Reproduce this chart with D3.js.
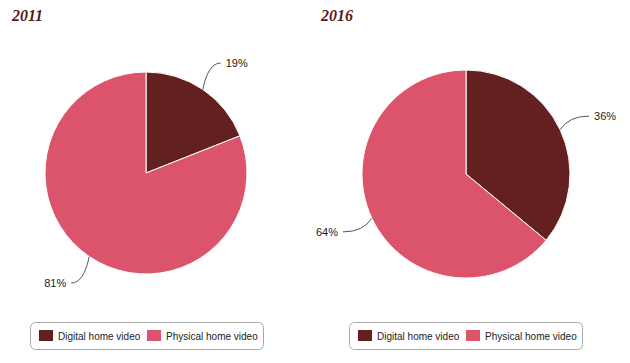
<!DOCTYPE html>
<html>
<head>
<meta charset="utf-8">
<script src="https://cdn.jsdelivr.net/npm/d3@7"></script>
<style>
  body { margin: 0; background: #fff; }
</style>
</head>
<body>
<div id="chart"></div>
<script>
// datos
var years = ['2011', '2016']
var categories = ['Digital home video', 'Physical home video']
var share2011 = [19, 81]
var share2016 = [36, 64]
var colors = ['#63201e', '#dc546b']

var width = 630
var height = 363

var svg = d3.select('#chart')
    .append('svg')
    .attr('width', width)
    .attr('height', height)

// configuracion de cada panel
var panels = [
    {year: years[0], values: share2011, cx: 146, cy: 173, r: 101, tx: 12, lx: 30},
    {year: years[1], values: share2016, cx: 466, cy: 174, r: 104, tx: 321, lx: 349}
]

var pie = d3.pie().sort(null).value((d) => d)
var colorScale = d3.scaleOrdinal().domain(categories).range(colors)

panels.forEach((p) => {
    var g = svg.append('g')

    // titulo
    g.append('text')
        .attr('x', p.tx)
        .attr('y', 21)
        .attr('font-family', 'Liberation Serif, DejaVu Serif, serif')
        .attr('font-style', 'italic')
        .attr('font-weight', 'bold')
        .attr('font-size', 16)
        .attr('fill', '#5a1a1a')
        .text(p.year)

    var arcs = pie(p.values)
    var arc = d3.arc().innerRadius(0).outerRadius(p.r)

    var pieG = g.append('g').attr('transform', 'translate(' + p.cx + ',' + p.cy + ')')

    pieG.selectAll('path.slice')
        .data(arcs)
        .enter()
        .append('path')
        .attr('class', 'slice')
        .attr('d', arc)
        .attr('fill', (d, i) => colorScale(categories[i]))
        .attr('stroke', '#fff')
        .attr('stroke-width', 1)

    // etiquetas con conectores
    arcs.forEach((d) => {
        var mid = (d.startAngle + d.endAngle) / 2
        var sx = Math.sin(mid) * p.r
        var sy = -Math.cos(mid) * p.r
        var ex = Math.sin(mid) * (p.r + 32)
        var ey = -Math.cos(mid) * (p.r + 32)
        var qx = sx + (ex - sx) * 0.3
        var qy = ey
        pieG.append('path')
            .attr('d', 'M' + sx + ',' + sy + 'Q' + qx + ',' + qy + ' ' + ex + ',' + ey)
            .attr('fill', 'none')
            .attr('stroke', '#555')
            .attr('stroke-width', 1)
        var right = ex >= 0
        pieG.append('text')
            .attr('x', ex + (right ? 5 : -5))
            .attr('y', ey + 4)
            .attr('text-anchor', right ? 'start' : 'end')
            .attr('font-family', 'Liberation Sans, Arial, sans-serif')
            .attr('font-size', 11)
            .attr('fill', '#222')
            .text(d.data + '%')
    })

    // leyenda
    var leg = g.append('g').attr('transform', 'translate(' + p.lx + ',322)')
    leg.append('rect')
        .attr('x', 0.5)
        .attr('y', 0.5)
        .attr('width', 233)
        .attr('height', 27)
        .attr('rx', 5)
        .attr('fill', '#fff')
        .attr('stroke', '#a8a8a8')
    var offsets = [9, 117]
    categories.forEach((c, i) => {
        leg.append('rect')
            .attr('x', offsets[i])
            .attr('y', 8)
            .attr('width', 14)
            .attr('height', 11)
            .attr('fill', colorScale(c))
        leg.append('text')
            .attr('x', offsets[i] + 19)
            .attr('y', 18)
            .attr('font-family', 'Liberation Sans, Arial, sans-serif')
            .attr('font-size', 10)
            .attr('fill', '#222')
            .text(c)
    })
})
</script>
</body>
</html>
